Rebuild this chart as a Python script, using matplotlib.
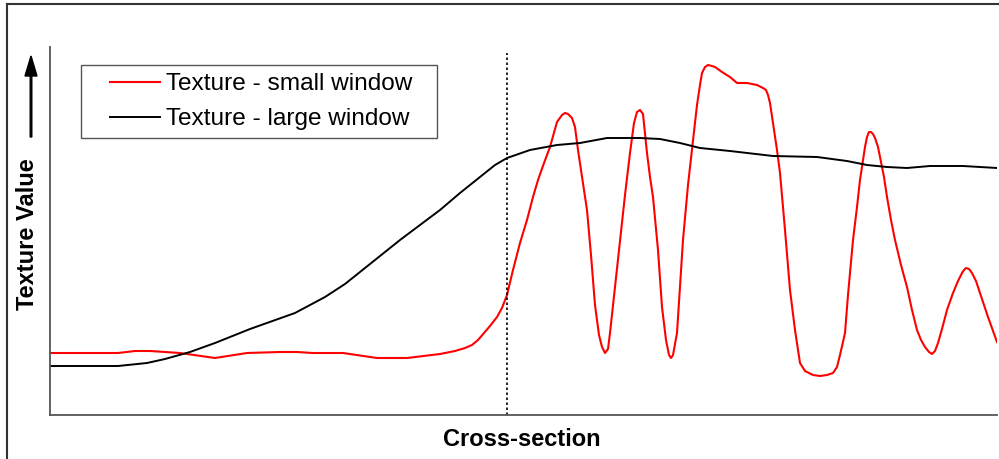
import matplotlib
matplotlib.use("Agg")
import matplotlib.pyplot as plt
from matplotlib.lines import Line2D
from matplotlib.patches import FancyArrow, Rectangle

plt.rcParams['font.family'] = ['Liberation Sans', 'DejaVu Sans']

# Cross-section position (0..947) and texture value (0..368)
small_x = [-10, 68, 85, 100, 130, 165, 197, 230, 247, 263, 293, 327, 357, 390, 405, 415,
           422, 428, 434, 440, 447, 452, 457, 463, 470, 477, 483, 488, 494, 500, 507, 512,
           515, 518, 522, 525,
           528, 532, 537, 541, 545, 549, 552, 555, 558, 560, 565, 570, 575, 580, 584,
           587, 590, 593, 597, 600, 603, 608, 612, 616, 619, 621, 623, 627, 633, 638, 643,
           647, 650, 652, 655, 658, 662, 665, 672, 680, 687, 697, 707, 713, 716, 718, 720,
           723, 727, 730, 735, 740, 745, 750, 755, 763, 770, 777, 783, 787, 790, 795, 798,
           803, 807, 810, 813, 815, 817, 819, 821, 823, 825, 828, 830, 834, 837, 841, 845,
           851, 857, 862, 867, 871, 875, 879, 882, 885, 888, 892, 897, 903, 908, 912, 914,
           916, 919, 922, 926, 930, 938, 947]
small_y = [62, 62, 64, 64, 62, 57, 62, 63, 63, 62, 62, 57, 57, 61, 64, 67,
           70, 75, 82, 89, 98, 107, 120, 145, 172, 195, 218, 235, 252, 268, 293, 300,
           302, 301, 297, 288,
           265, 238, 205, 160, 110, 80, 68, 62, 66, 82, 128, 175, 220, 262, 292,
           303, 305, 301, 262, 238, 218, 165, 108, 75, 60, 57, 60, 82, 175, 230, 275,
           310, 330, 342, 348, 350, 349, 348, 343, 338, 332, 332, 330, 327, 325, 320, 312,
           292, 265, 242, 185, 125, 85, 52, 44, 40, 39, 40, 42, 48, 60, 82, 120,
           175, 208, 235, 255, 268, 278, 283, 283, 281, 277, 268, 258, 238, 218, 195, 175,
           150, 128, 105, 85, 75, 68, 63, 61, 64, 72, 86, 105, 122, 134, 142, 145,
           147, 146, 142, 134, 122, 98, 73]

large_x = [-10, 68, 97, 115, 140, 165, 200, 245, 275, 295, 325, 350, 390, 410, 430, 445,
           457, 480, 507, 530, 557, 590, 610, 630, 650, 680, 723, 767, 797, 817, 837, 857,
           880, 913, 947]
large_y = [49, 49, 52, 56, 63, 72, 86, 102, 118, 131, 155, 175, 205, 222, 238, 250,
           257, 265, 270, 272, 277, 277, 276, 272, 267, 264, 259, 258, 254, 250, 248, 247,
           249, 249, 247]

boundary_x = 457
labels = ['Texture - small window', 'Texture - large window']

W, H = 999, 459
fig = plt.figure(figsize=(W / 100, H / 100), dpi=100)
ax = fig.add_axes([50 / W, 1 - 415 / H, (997 - 50) / W, (415 - 47) / H])

ax.plot(small_x, small_y, color='#ff0000', lw=1.5, solid_joinstyle='round')
ax.plot(large_x, large_y, color='black', lw=1.4, solid_joinstyle='round')
ax.plot([boundary_x, boundary_x], [0, 362], color='black', lw=1.2,
        linestyle=(0, (1.5, 1.5)))

ax.set_xlim(0, 947)
ax.set_ylim(0, 368)
ax.set_xticks([])
ax.set_yticks([])
for s in ['top', 'right']:
    ax.spines[s].set_visible(False)
for s in ['left', 'bottom']:
    ax.spines[s].set_color('#555555')
    ax.spines[s].set_linewidth(1.3)

fig.text(522 / W, 1 - 440 / H, 'Cross-section', ha='center', va='center',
         fontsize=17, fontweight='bold')
fig.text(28 / W, 1 - 234 / H, 'Texture Value', ha='center', va='center',
         rotation=90, fontsize=17, fontweight='bold')

# arrow next to y label
fig.add_artist(FancyArrow(31 / W, 1 - 137 / H, 0, (137 - 56) / H,
                          width=0.0016, head_width=12 / W, head_length=20 / H,
                          length_includes_head=True, color='black',
                          transform=fig.transFigure))

# figure frame (left and top)
fig.add_artist(Line2D([7 / W, 7 / W], [0, 1 - 4 / H], color='#333333', lw=1.5,
                      transform=fig.transFigure))
fig.add_artist(Line2D([7 / W, 1], [1 - 4 / H, 1 - 4 / H], color='#333333', lw=1.5,
                      transform=fig.transFigure))

# legend box
fig.add_artist(Rectangle((81 / W, 1 - 138 / H), (437 - 81) / W, (138 - 65) / H,
                         facecolor='white', edgecolor='#555555', lw=1.0,
                         transform=fig.transFigure, zorder=4))
handles = [Line2D([], [], color='#ff0000', lw=1.5), Line2D([], [], color='black', lw=1.4)]
leg = fig.legend(handles, labels, loc='upper left',
                 bbox_to_anchor=(110 / W, 1 - 73 / H), borderaxespad=0,
                 fontsize=17.6, frameon=False, handlelength=2.05,
                 handletextpad=0.25, borderpad=0, labelspacing=0.53)
leg.set_zorder(5)

fig.savefig('out.png', dpi=100)
